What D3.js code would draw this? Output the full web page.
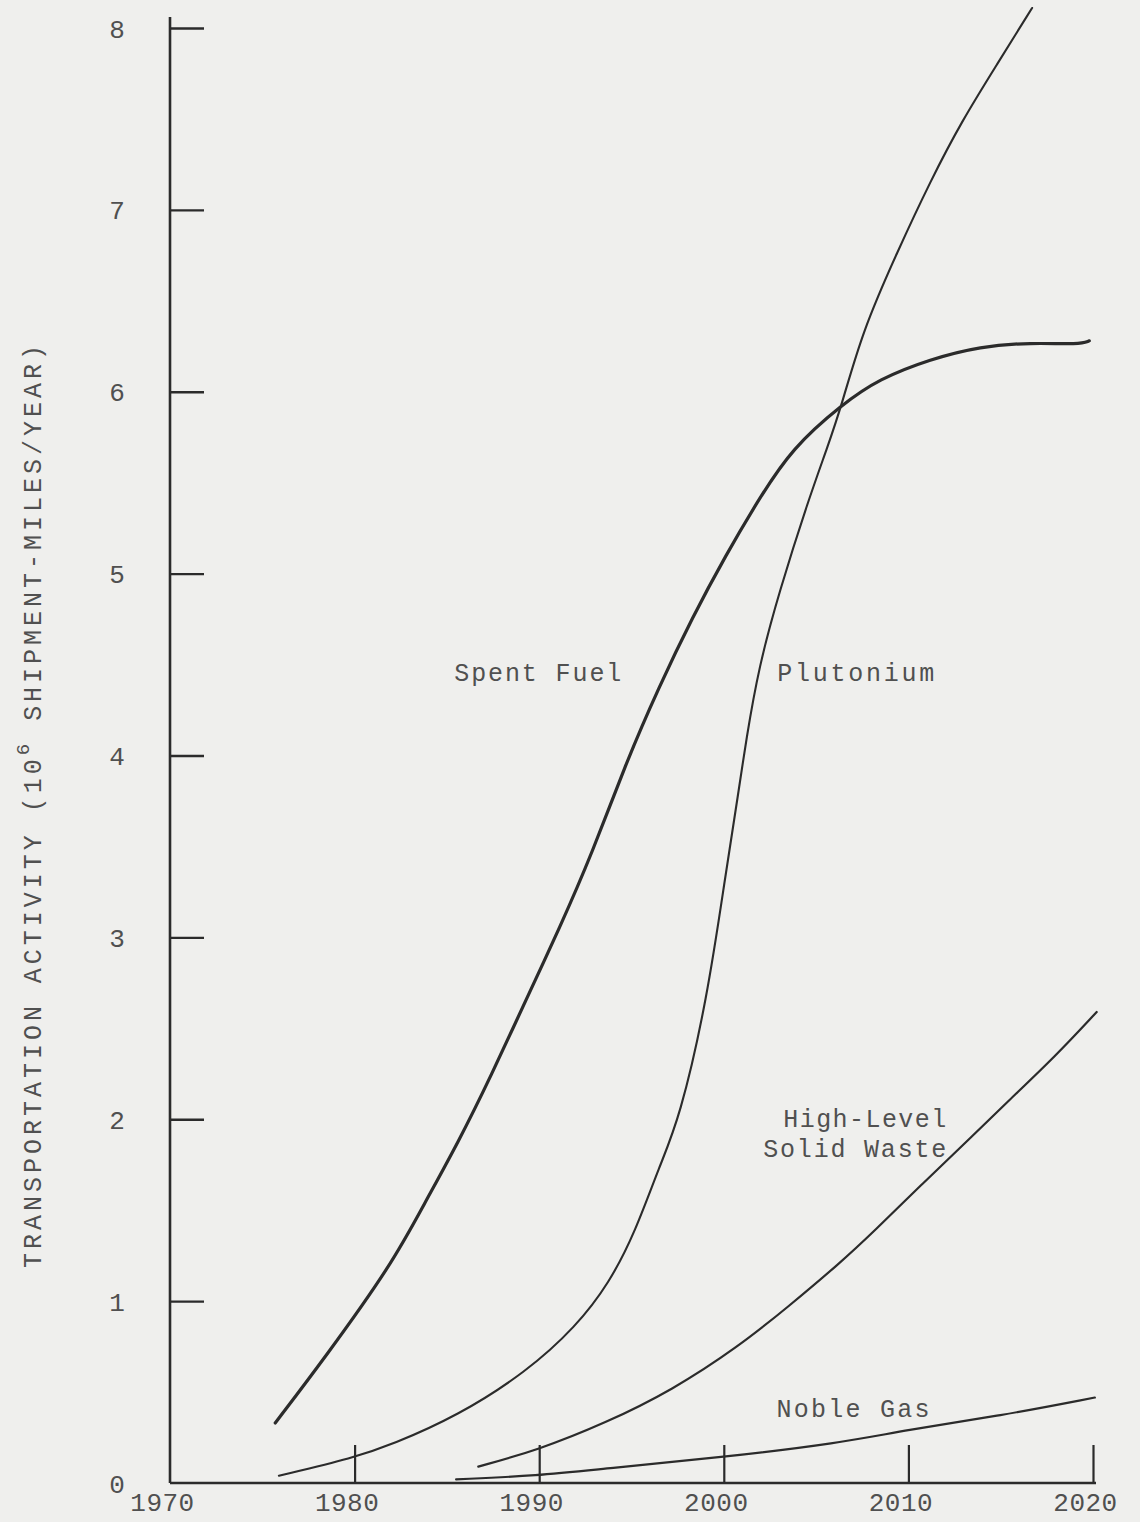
<!DOCTYPE html>
<html>
<head>
<meta charset="utf-8">
<script src="https://cdn.jsdelivr.net/npm/d3@7"></script>
<style>
  html, body { margin: 0; padding: 0; background: #efefed; }
  svg { display: block; }
  text { font-family: "Liberation Mono", "DejaVu Sans Mono", monospace; fill: #505050; }
</style>
</head>
<body>
<svg id="chart" width="1140" height="1522"></svg>
<script>
// ---------------- data ----------------
const xTickYears = [1970, 1980, 1990, 2000, 2010, 2020];
const yTickValues = [0, 1, 2, 3, 4, 5, 6, 7, 8];

const spentFuelYears  = [1975.7, 1978.4, 1982.0, 1983.8, 1985.6, 1987.4, 1989.3, 1991.1, 1992.9, 1994.7, 1996.5, 1998.3, 2000.1, 2001.9, 2003.7, 2006.4, 2008.4, 2011.2, 2013.9, 2016.6, 2019.3, 2019.8];
const spentFuelValues = [0.33,   0.69,   1.20,   1.54,   1.87,   2.24,   2.66,   3.05,   3.47,   3.96,   4.38,   4.76,   5.10,   5.41,   5.69,   5.93,   6.07,   6.18,   6.25,   6.27,   6.26,   6.28];

const plutoniumYears  = [1975.9, 1980.0, 1982.0, 1985.6, 1989.3, 1992.0, 1993.8, 1995.2, 1996.5, 1997.6, 1999.1, 2000.1, 2000.8, 2001.2, 2001.9, 2003.0, 2004.6, 2005.6, 2006.4, 2007.5, 2009.4, 2011.2, 2012.9, 2014.8, 2016.7];
const plutoniumValues = [0.04,   0.14,   0.21,   0.37,   0.61,   0.86,   1.10,   1.38,   1.74,   2.00,   2.66,   3.35,   3.80,   4.08,   4.49,   4.90,   5.41,   5.69,   5.93,   6.33,   6.77,   7.16,   7.49,   7.80,   8.11];

const highLevelYears  = [1986.7, 1989.9, 1993.6, 1997.2, 2000.8, 2003.5, 2006.3, 2008.1, 2010.8, 2013.5, 2015.3, 2018.0, 2020.2];
const highLevelValues = [0.09,   0.18,   0.33,   0.51,   0.75,   0.97,   1.21,   1.38,   1.65,   1.91,   2.09,   2.35,   2.59];

const nobleGasYears   = [1985.5, 1989.9, 1993.6, 1999.8, 2006.3, 2009.8, 2015.0, 2020.1];
const nobleGasValues  = [0.02,   0.04,   0.08,   0.14,   0.22,   0.29,   0.37,   0.47];

const seriesNames = ["Spent Fuel", "Plutonium", "High-Level Solid Waste", "Noble Gas"];
const yAxisTitle = "TRANSPORTATION ACTIVITY (10";
const yAxisTitleSup = "6";
const yAxisTitleRest = " SHIPMENT-MILES/YEAR)";

// ---------------- layout ----------------
const svg = d3.select("#chart");
const x = d3.scaleLinear().domain([1970, 2020]).range([170, 1093]);
const y = d3.scaleLinear().domain([0, 8]).range([1483, 28]);
const ink = "#2b2b2b";

const series = [
  { name: seriesNames[0], years: spentFuelYears, values: spentFuelValues, width: 3.2 },
  { name: seriesNames[1], years: plutoniumYears, values: plutoniumValues, width: 2.1 },
  { name: seriesNames[2], years: highLevelYears, values: highLevelValues, width: 2.2 },
  { name: seriesNames[3], years: nobleGasYears, values: nobleGasValues, width: 2.2 }
];

// y axis
const yAxis = d3.axisLeft(y).tickValues(yTickValues).tickSizeInner(-34).tickSizeOuter(0).tickPadding(0).tickFormat(d3.format("d"));
const gy = svg.append("g").attr("transform", `translate(${x(1970)},0)`).call(yAxis);
gy.select(".domain").remove();
gy.selectAll(".tick line").attr("stroke", ink).attr("stroke-width", 2.4).filter(d => d === 0).remove();
gy.selectAll(".tick text").attr("x", -53).attr("text-anchor", "middle").attr("dy", "0.35em")
  .style("font-size", "26px").attr("fill", "#505050");
svg.append("line").attr("x1", x(1970)).attr("x2", x(1970)).attr("y1", y(0)).attr("y2", y(8) - 11)
  .attr("stroke", ink).attr("stroke-width", 2.6);

// x axis
const xAxis = d3.axisBottom(x).tickValues(xTickYears).tickSizeInner(-38).tickSizeOuter(0).tickPadding(10).tickFormat(d3.format("d"));
const gx = svg.append("g").attr("transform", `translate(0,${y(0)})`).call(xAxis);
gx.select(".domain").remove();
gx.selectAll(".tick line").attr("stroke", ink).attr("stroke-width", 2.2).filter(d => d === 1970).remove();
gx.selectAll(".tick text").attr("dx", -8).style("font-size", "26px").style("letter-spacing", "0.5px").attr("fill", "#505050");
svg.append("line").attr("x1", x(1970)).attr("x2", x(2020) + 3).attr("y1", y(0)).attr("y2", y(0))
  .attr("stroke", ink).attr("stroke-width", 2.6);

// curves
const line = d3.line().x(d => x(d[0])).y(d => y(d[1])).curve(d3.curveBasis);
series.forEach(s => {
  const pts = s.years.map((yr, i) => [yr, s.values[i]]);
  svg.append("path").attr("d", line(pts)).attr("fill", "none")
    .attr("stroke", ink).attr("stroke-width", s.width).attr("stroke-linecap", "round");
});

// curve labels
const labels = [
  { text: "Spent Fuel", xv: 1985.4, yv: 4.41, anchor: "start", len: 167 },
  { text: "Plutonium", xv: 2002.9, yv: 4.41, anchor: "start", len: 157 },
  { text: "High-Level", xv: 2012.05, yv: 1.955, anchor: "end", len: 163 },
  { text: "Solid Waste", xv: 2012.05, yv: 1.79, anchor: "end", len: 183 },
  { text: "Noble Gas", xv: 2002.85, yv: 0.363, anchor: "start", len: 153 }
];
labels.forEach(l => {
  svg.append("text").attr("x", x(l.xv)).attr("y", y(l.yv)).attr("text-anchor", l.anchor)
    .attr("textLength", l.len).attr("lengthAdjust", "spacing")
    .style("font-size", "25px").text(l.text);
});

// y axis title
const title = svg.append("text")
  .attr("transform", `translate(41,${(1268 + 345) / 2}) rotate(-90)`)
  .attr("text-anchor", "middle")
  .style("font-size", "25px")
  .attr("textLength", 923).attr("lengthAdjust", "spacing");
title.append("tspan").text(yAxisTitle);
title.append("tspan").attr("dy", -12).style("font-size", "19px").text(yAxisTitleSup);
title.append("tspan").attr("dy", 12).text(yAxisTitleRest);
</script>
</body>
</html>
